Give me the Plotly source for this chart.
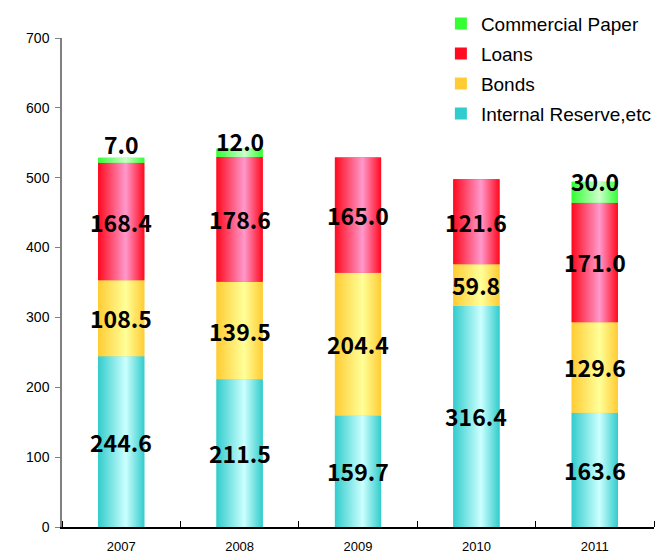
import plotly.graph_objects as go

# Funding sources by fiscal year (billions of yen)
years = ["2007", "2008", "2009", "2010", "2011"]
internal_reserve = [244.6, 211.5, 159.7, 316.4, 163.6]
bonds = [108.5, 139.5, 204.4, 59.8, 129.6]
loans = [168.4, 178.6, 165.0, 121.6, 171.0]
commercial_paper = [7.0, 12.0, None, None, 30.0]
y_ticks = [0, 100, 200, 300, 400, 500, 600, 700]

# name, values, edge colour, highlight colour (bottom to top of the stack)
series = [
    ("Internal Reserve,etc", internal_reserve, "#33CCCC", "#CCFFFF"),
    ("Bonds", bonds, "#FFCC33", "#FFFF99"),
    ("Loans", loans, "#FF0A1E", "#FF99CC"),
    ("Commercial Paper", commercial_paper, "#33FF33", "#CCFFCC"),
]

BAR_W = 0.39
LABEL_FONT = dict(family="Noto Sans CJK JP, DejaVu Sans Condensed, sans-serif",
                  size=23, color="black", weight="bold")
# vertical lift (px) of the small top-segment labels above the stack top
cp_label_lift = [14, 8, 0, 0, 1]

fig = go.Figure()
annotations = []
xs = list(range(len(years)))
base = [0.0] * len(years)
n_series = len(series)

for k, (name, vals, edge, light) in enumerate(series):
    v0 = [v if v is not None else 0.0 for v in vals]
    # plain bars carry the legend entry and sit under the shaded overlay
    fig.add_trace(go.Bar(
        x=xs, y=v0, base=base, width=BAR_W, name=name, legendgroup=name,
        legendrank=n_series - k,
        marker=dict(color=edge, line=dict(width=0)), hoverinfo="skip",
    ))
    for i, v in enumerate(vals):
        if v is None or v == 0:
            continue
        x0, x1 = i - BAR_W / 2, i + BAR_W / 2
        y0, y1 = base[i], base[i] + v
        fig.add_trace(go.Scatter(
            x=[x0, x1, x1, x0, x0], y=[y0, y0, y1, y1, y0],
            mode="lines", line=dict(width=0), fill="toself",
            fillgradient=dict(type="horizontal",
                              colorscale=[[0, edge], [0.6, light], [1, edge]]),
            showlegend=False, hoverinfo="skip",
        ))
        if name == "Commercial Paper":
            annotations.append(dict(x=i, y=y1, text=f"{v:.1f}", showarrow=False,
                                    yanchor="middle", yshift=cp_label_lift[i],
                                    font=LABEL_FONT))
        else:
            annotations.append(dict(x=i, y=(y0 + y1) / 2, text=f"{v:.1f}",
                                    showarrow=False, yanchor="middle",
                                    font=LABEL_FONT))
    base = [b + v for b, v in zip(base, v0)]

# unit caption, mostly above the page edge
annotations.append(dict(xref="paper", yref="paper", x=-0.067, y=1, xanchor="left",
                        yanchor="bottom", yshift=37, text="(Billions of Yen)",
                        showarrow=False,
                        font=dict(family="Liberation Sans, Arial, sans-serif",
                                  size=13, color="black")))

fig.update_layout(
    width=662, height=555,
    margin=dict(l=62, r=5, t=38, b=28),
    paper_bgcolor="white", plot_bgcolor="white",
    barmode="overlay",
    showlegend=True,
    legend=dict(x=0.64, y=1.068, xanchor="left", yanchor="top",
                traceorder="grouped", tracegroupgap=2.3,
                bgcolor="rgba(0,0,0,0)",
                font=dict(family="Liberation Sans, Arial, sans-serif", size=19,
                          color="black")),
    annotations=annotations,
    font=dict(family="Liberation Sans, Arial, sans-serif", color="black"),
)

fig.update_xaxes(
    range=[-0.5, len(years) - 0.5], tickmode="array", tickvals=xs, ticktext=years,
    ticks="", showline=True, linecolor="black", linewidth=1.5, showgrid=False,
    zeroline=False, tickfont=dict(size=13), ticklabelstandoff=7, automargin=False,
    minor=dict(tickmode="array", tickvals=[i - 0.5 for i in range(len(years) + 1)],
               ticks="inside", ticklen=6, tickcolor="black", tickwidth=1),
)
fig.update_yaxes(
    range=[0, 700], tickmode="array", tickvals=y_ticks, ticks="outside", ticklen=5,
    tickcolor="#808080", showline=True, linecolor="#808080", linewidth=1.5,
    showgrid=False, zeroline=False, tickfont=dict(size=14), ticklabelstandoff=3,
    automargin=False,
)

fig.write_html("out.html")
